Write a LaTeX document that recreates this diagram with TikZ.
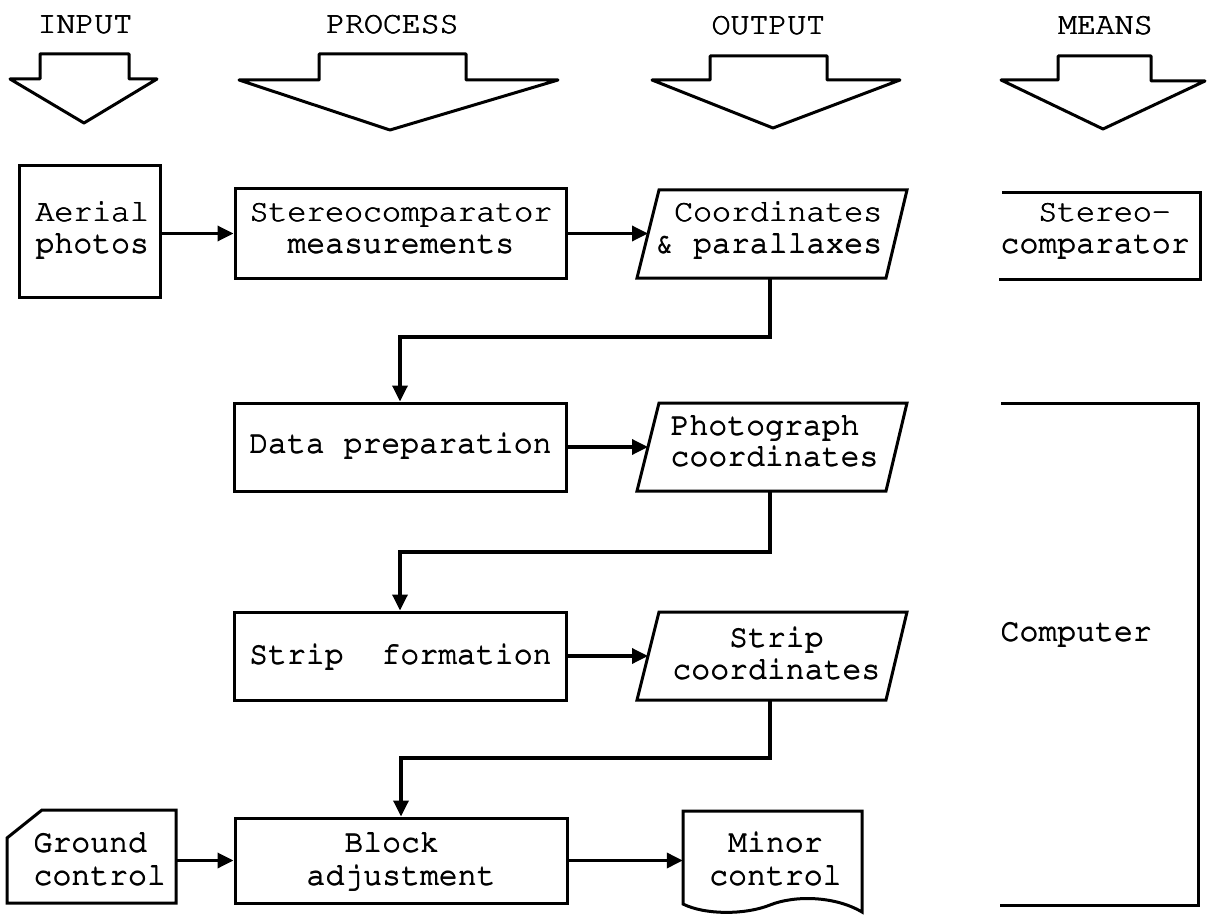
\documentclass[tikz,border=0pt]{standalone}
\usepackage[T1]{fontenc}
\usetikzlibrary{arrows.meta,fit}
\newcommand{\tw}{\fontencoding{T1}\fontfamily{pcr}\fontseries{m}\fontshape{n}\fontsize{31.5}{31.5}\selectfont}
\newcommand{\fb}[1]{\rlap{\kern0.9pt#1}\rlap{\raisebox{0.6pt}{\kern0.45pt#1}}#1}
\begin{document}
\begin{tikzpicture}[x=1pt,y=-1pt,
  ln/.style={line width=3pt, line join=miter},
  hdr/.style={line width=3pt, line join=round},
  box/.style={draw, line width=3pt, inner sep=0pt},
  hold/.style={inner sep=0pt},
  txt/.style={font=\tw, inner sep=0pt, anchor=base},
  arr/.style={line width=3.4pt, -{Triangle[length=16pt,width=15pt]}}]
\useasboundingbox (0,0) rectangle (1208,915);

% header arrows and labels
\draw[hdr] (10,79) -- (40,79) -- (40,54) -- (129,54) -- (129,79) -- (157,79) -- (84,123) -- cycle;
\draw[hdr] (239,80) -- (319,80) -- (319,54) -- (466,54) -- (466,80) -- (558,80) -- (390,130) -- cycle;
\draw[hdr] (652,80) -- (710,80) -- (710,56) -- (827,56) -- (827,80) -- (900,80) -- (773,128) -- cycle;
\draw[hdr] (1001,80) -- (1058,80) -- (1058,56) -- (1151,56) -- (1151,81) -- (1205,81) -- (1103,129) -- cycle;
\node[txt] (hin) at (84.5,34) {\fb{INPUT}};
\node[txt] (hpr) at (392,34) {\fb{PROCESS}};
\node[txt] (hout) at (768,35) {\fb{OUTPUT}};
\node[txt] (hmn) at (1105,35) {\fb{MEANS}};

% rectangular boxes
\node[box, fit={(19,166)(160,297)}] (aerial) {};
\node[box, fit={(235,189)(566,278)}] (stereo) {};
\node[box, fit={(234,403)(566,491)}] (dprep) {};
\node[box, fit={(234,612)(566,700)}] (strip) {};
\node[box, fit={(235,818)(567,903)}] (block) {};

% parallelograms
\draw[ln] (659,190) -- (907,190) -- (886,278) -- (637,278) -- cycle;
\draw[ln] (659,403) -- (907,403) -- (886,491) -- (637,491) -- cycle;
\draw[ln] (659,612) -- (907,612) -- (886,700) -- (637,700) -- cycle;
\coordinate (p1w) at (648,233.5);
\coordinate (p1s) at (770,278);
\coordinate (p2w) at (648,447);
\coordinate (p2s) at (770,491);
\coordinate (p3w) at (648,656);
\coordinate (p3s) at (770,700);

% ground control (card) and minor control (document)
\draw[ln] (7,838) -- (42,810) -- (176,810) -- (176,903) -- (7,903) -- cycle;
\node[hold, fit={(7,810)(176,903)}] (ground) {};
\draw[ln] (683,811) -- (862,811) -- (862,912)
  .. controls (835,896) and (795,895) .. (770,905)
  .. controls (745,915) and (705,915) .. (683,904) -- cycle;
\node[hold, fit={(683,811)(862,905)}] (minor) {};

% means brackets
\draw[ln] (1002,193) -- (1200,193) -- (1200,279) -- (999,279);
\draw[ln] (1001,403) -- (1198,403) -- (1198,905) -- (1000,905);

% texts
\node[txt, anchor=base west] (ta1) at (35,222) {\fb{Aerial}};
\node[txt, anchor=base west] (ta2) at (35,253) {\fb{photos}};
\node[txt] (ts1) at (400.5,222) {\fb{Stereocomparator}};
\node[txt] (ts2) at (400.5,253) {\fb{measurements}};
\node[txt, anchor=base east] (tc1) at (882,222) {\fb{Coordinates}};
\node[txt, anchor=base east] (tc2) at (882,253) {\fb{\& parallaxes}};
\node[txt, anchor=base west] (tm1) at (1000,222) {\fb{~~Stereo-}};
\node[txt, anchor=base west] (tm2) at (1000,253) {\fb{comparator}};
\node[txt] (td) at (400,453) {\fb{Data preparation}};
\node[txt, anchor=base west] (tp1) at (670,435) {\fb{Photograph}};
\node[txt, anchor=base west] (tp2) at (670,466) {\fb{coordinates}};
\node[txt] (tsf) at (400,664) {\fb{Strip~~formation}};
\node[txt] (tsc1) at (776,647) {\fb{Strip}};
\node[txt] (tsc2) at (776,679) {\fb{coordinates}};
\node[txt, anchor=base west] (tcomp) at (1000,641) {\fb{Computer}};
\node[txt, anchor=base west] (tg1) at (33,852) {\fb{Ground}};
\node[txt, anchor=base west] (tg2) at (33,885) {\fb{control}};
\node[txt, anchor=base west] (tb1) at (306,852) {\fb{~~Block}};
\node[txt, anchor=base west] (tb2) at (306,885) {\fb{adjustment}};
\node[txt] (tmc1) at (775,852) {\fb{Minor}};
\node[txt] (tmc2) at (775,885) {\fb{control}};

% connectors
\draw[arr] (aerial.east |- stereo.west) -- (stereo.west);
\draw[arr] (stereo.east) -- (p1w);
\draw[arr] (p1s) -- ++(0,59) -| (dprep.north);
\draw[arr] (dprep.east) -- (p2w);
\draw[arr] (p2s) -- ++(0,61) -| (strip.north);
\draw[arr] (strip.east) -- (p3w);
\draw[arr] (p3s) -- ++(0,58) -| (block.north);
\draw[arr] (ground.east |- block.west) -- (block.west);
\draw[arr] (block.east) -- (minor.west |- block.east);
\end{tikzpicture}
\end{document}
